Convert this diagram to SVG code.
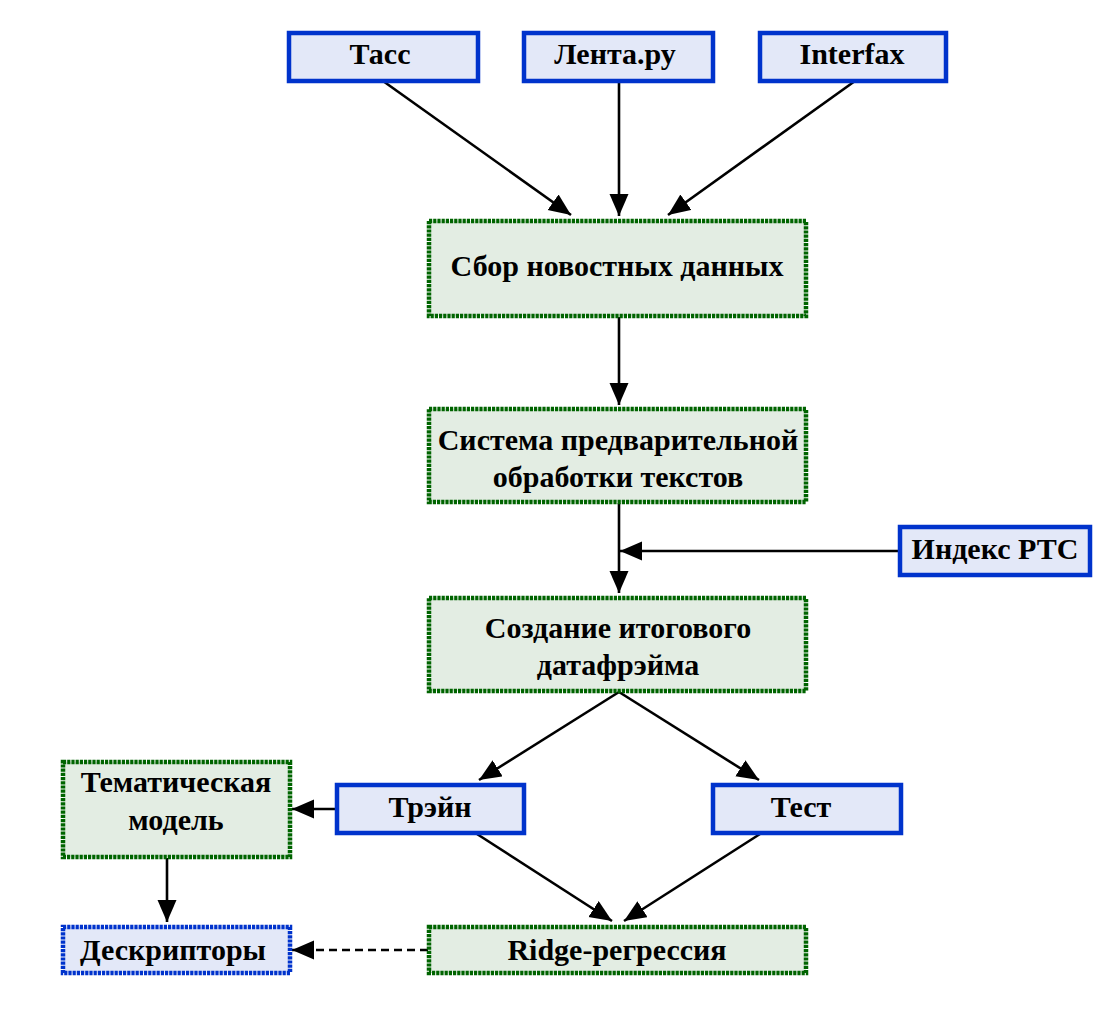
<svg xmlns="http://www.w3.org/2000/svg" width="1120" height="1012" viewBox="0 0 1120 1012">
<style>
.b{fill:#e3e8f8;stroke:#0033cc;stroke-width:4.5}
.g{fill:#e3ede3;stroke:#006400;stroke-width:4.5;stroke-dasharray:3.2 1}
.bd{fill:#e3e8f8;stroke:#0033cc;stroke-width:4.5;stroke-dasharray:3.2 1}
text{font-family:"Liberation Serif","Times New Roman",serif;font-weight:bold;font-size:30px;fill:#000;text-anchor:middle}
.c line{stroke:#000;stroke-width:2.6;fill:none;marker-end:url(#ah)}
</style>
<defs>
<marker id="ah" markerUnits="userSpaceOnUse" markerWidth="24" markerHeight="20" refX="22" refY="9.5" orient="auto">
<path d="M0,0 L22,9.5 L0,19 Z" fill="#000"/>
</marker>
</defs>
<rect width="1120" height="1012" fill="#fff"/>
<g class="c">
<line x1="383" y1="81" x2="571" y2="215"/>
<line x1="619" y1="82" x2="619" y2="216"/>
<line x1="855" y1="81" x2="668" y2="215"/>
<line x1="619" y1="317" x2="619" y2="405"/>
<line x1="619" y1="503" x2="619" y2="593"/>
<line x1="898" y1="551" x2="620" y2="551"/>
<line x1="619" y1="692" x2="479" y2="780"/>
<line x1="619" y1="692" x2="759" y2="780"/>
<line x1="335" y1="809" x2="292" y2="809"/>
<line x1="167" y1="858" x2="167" y2="922"/>
<line x1="477" y1="834" x2="612" y2="921"/>
<line x1="760" y1="834" x2="624" y2="921"/>
<line x1="428" y1="950" x2="292" y2="950" style="stroke-dasharray:8 5"/>
</g>
<g id="tass"><rect class="b" x="289" y="33" width="189" height="48"/><text x="380" y="64">Тасс</text></g>
<g id="lenta"><rect class="b" x="524" y="33" width="189" height="48"/><text x="615" y="64">Лента.ру</text></g>
<g id="interfax"><rect class="b" x="760" y="33" width="186" height="48"/><text x="852" y="64">Interfax</text></g>
<g id="sbor"><rect class="g" x="429" y="221" width="377" height="95"/><text x="617" y="276">Сбор новостных данных</text></g>
<g id="sistema"><rect class="g" x="429" y="409" width="377" height="93"/><text x="618" y="450">Система предварительной</text><text x="618" y="487">обработки текстов</text></g>
<g id="indeks"><rect class="b" x="900" y="527" width="190" height="48"/><text x="995" y="559">Индекс РТС</text></g>
<g id="sozdanie"><rect class="g" x="429" y="598" width="377" height="93"/><text x="618" y="638">Создание итогового</text><text x="618" y="675">датафрэйма</text></g>
<g id="tema"><rect class="g" x="63" y="762" width="227" height="95"/><text x="176" y="792">Тематическая</text><text x="176" y="830">модель</text></g>
<g id="train"><rect class="b" x="337" y="785" width="187" height="48"/><text x="430" y="817">Трэйн</text></g>
<g id="test"><rect class="b" x="713" y="785" width="188" height="48"/><text x="801" y="817">Тест</text></g>
<g id="desk"><rect class="bd" x="63" y="927" width="227" height="46"/><text x="173" y="960">Дескрипторы</text></g>
<g id="ridge"><rect class="g" x="429" y="927" width="377" height="46"/><text x="617" y="960">Ridge-регрессия</text></g>
</svg>
